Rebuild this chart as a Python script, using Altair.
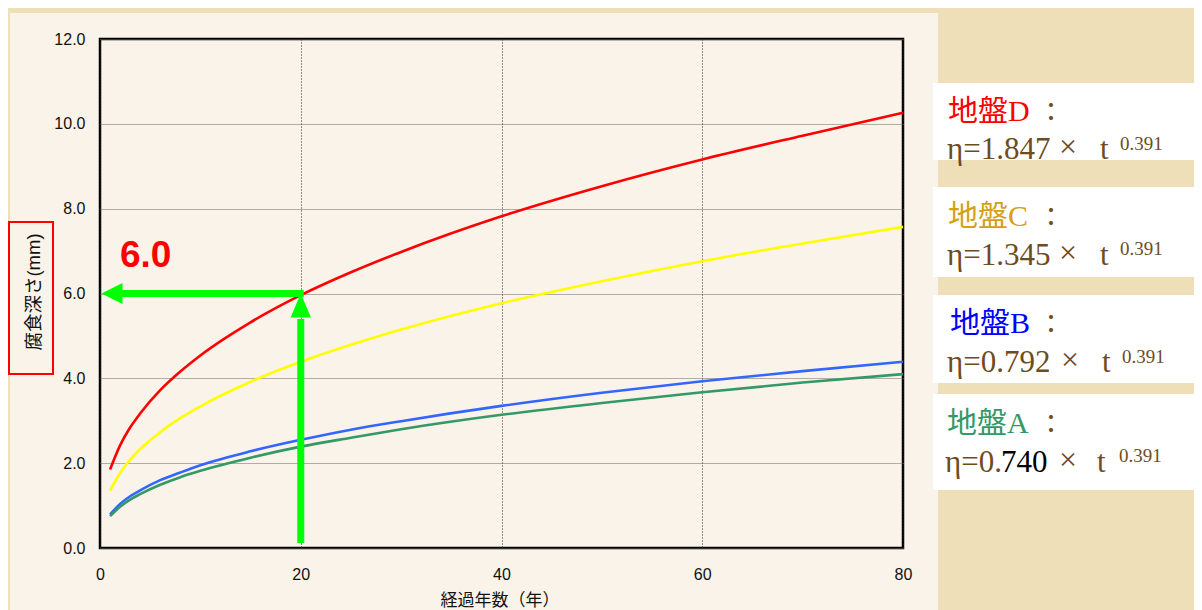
import altair as alt
import pandas as pd

# ---- data ----
years = [1, 2, 3, 4, 6, 8, 10, 15, 20, 25, 30, 40, 50, 60, 70, 80]
ground_d = [1.85, 2.42, 2.84, 3.17, 3.72, 4.16, 4.54, 5.32, 5.96, 6.50, 6.98, 7.82, 8.53, 9.16, 9.72, 10.26]
ground_c = [1.35, 1.77, 2.08, 2.33, 2.73, 3.06, 3.34, 3.92, 4.39, 4.79, 5.15, 5.77, 6.29, 6.76, 7.18, 7.57]
ground_b = [0.79, 1.04, 1.22, 1.36, 1.60, 1.78, 1.95, 2.28, 2.55, 2.79, 2.99, 3.35, 3.66, 3.93, 4.17, 4.39]
ground_a = [0.75, 0.97, 1.14, 1.27, 1.49, 1.67, 1.82, 2.13, 2.39, 2.60, 2.80, 3.14, 3.42, 3.67, 3.90, 4.10]
ground_names = ["地盤D", "地盤C", "地盤B", "地盤A"]
line_colors = ["#ff0000", "#ffff00", "#3366ff", "#339966"]
label_colors = ["#ff0000", "#d4a017", "#0000ff", "#339966"]
coefficients = ["1.847", "1.345", "0.792", "0.740"]
exponent = "0.391"
x_ticks = [0, 20, 40, 60, 80]
y_ticks = [0, 2, 4, 6, 8, 10, 12]
read_year = 20
read_depth = 6.0

rows = []
for name, vals in zip(ground_names, [ground_d, ground_c, ground_b, ground_a]):
    for t, v in zip(years, vals):
        rows.append({"t": t, "eta": v, "ground": name})
df = pd.DataFrame(rows)

SERIF = "Liberation Serif, Noto Sans CJK JP, serif"
SANS = "Liberation Sans, Noto Sans CJK JP, sans-serif"
BROWN = "#6e4c1e"
CREAM = "#f9f3e9"
TAN = "#eedfb8"

one = pd.DataFrame({"k": [0]})

x_scale = alt.Scale(domain=[0, 80], nice=False, zero=False)
y_scale = alt.Scale(domain=[0, 12], nice=False)


def rect(x1, x2, y1, y2, fill, **kw):
    return alt.Chart(one).mark_rect(fill=fill, **kw).encode(
        x=alt.value(x1), x2=alt.value(x2), y=alt.value(y1), y2=alt.value(y2))


def txt(s, x, y, size, color, font=SERIF, align="left", baseline="alphabetic",
        weight="normal", angle=0):
    return alt.Chart(one).mark_text(
        text=s, align=align, baseline=baseline, fontSize=size, color=color,
        font=font, fontWeight=weight, angle=angle).encode(
        x=alt.value(x), y=alt.value(y))


# background decorations (outside plot area)
strips = [
    rect(-100, 1102, -39, -26, TAN),
    rect(-100, -90, -39, 580, TAN),
    rect(838, 1102, -39, 580, TAN),
]

# white equation boxes
box_spans = [(44, 121), (148, 238), (256, 344), (355, 451)]
boxes = [rect(833, 1102, a, b, "#ffffff") for a, b in box_spans]

lines = alt.Chart(df).mark_line(strokeWidth=2.6, interpolate="monotone").encode(
    x=alt.X("t:Q", scale=x_scale,
            axis=alt.Axis(values=x_ticks, format="d", title=None, ticks=False,
                          domain=False, grid=True, gridColor="#222222",
                          gridDash=[1, 2], gridWidth=1, labelFontSize=16,
                          labelFont=SANS, labelColor="#111111", labelPadding=18,
                          labelFlush=False)),
    y=alt.Y("eta:Q", scale=y_scale,
            axis=alt.Axis(values=y_ticks, format=".1f", title=None, ticks=False,
                          domain=False, grid=True, gridColor="#666666",
                          gridDash=[1, 1], gridWidth=1, labelFontSize=16,
                          labelFont=SANS, labelColor="#111111", labelPadding=15,
                          labelFlush=False)),
    color=alt.Color("ground:N", scale=alt.Scale(domain=ground_names, range=line_colors),
                    legend=None),
)

# green reading arrows
GREEN = "#00ff00"
h_shaft = alt.Chart(pd.DataFrame({"x1": [2.0], "x2": [read_year + 0.3], "y": [read_depth]})).mark_rule(
    color=GREEN, strokeWidth=7).encode(
    x=alt.X("x1:Q", scale=x_scale), x2="x2:Q", y=alt.Y("y:Q", scale=y_scale))
v_shaft = alt.Chart(pd.DataFrame({"x": [read_year], "y1": [0.12], "y2": [read_depth - 0.6]})).mark_rule(
    color=GREEN, strokeWidth=7).encode(
    x=alt.X("x:Q", scale=x_scale), y=alt.Y("y1:Q", scale=y_scale), y2="y2:Q")
h_head = alt.Chart(pd.DataFrame({"x": [0.15], "y": [read_depth]})).mark_point(
    shape="M0,0L2,-1L2,1Z", size=441, filled=True, color=GREEN, opacity=1, strokeWidth=0).encode(
    x=alt.X("x:Q", scale=x_scale), y=alt.Y("y:Q", scale=y_scale))
v_head = alt.Chart(pd.DataFrame({"x": [read_year], "y": [read_depth]})).mark_point(
    shape="M0,0L-0.85,2L0.85,2Z", size=576, filled=True, color=GREEN, opacity=1, strokeWidth=0).encode(
    x=alt.X("x:Q", scale=x_scale), y=alt.Y("y:Q", scale=y_scale))

texts = [
    txt("6.0", 20, 228, 37, "#ff0000", font=SANS, weight="bold"),
    # axis titles
    rect(-91, -47, 183, 335, "#ffffff", fillOpacity=0, stroke="#ff0000", strokeWidth=2),
    txt("腐食深さ(mm)", -66, 253, 18.5, "#111111", font=SANS, align="center",
        baseline="middle", angle=270),
    txt("経過年数（年）", 400, 562, 17, "#111111", font=SANS, align="center", baseline="middle"),
]

# equation labels
label_y = [82, 187, 294, 394]
eq_y = [120, 226, 333, 433]
sup_y = [111, 216, 324, 423]
label_x = [848, 848, 850, 847]
eq_x = [847, 847, 847, 845]
times_x = [968, 968, 970, 968]
t_x = [1000, 1000, 1002, 997]
sup_x = [1020, 1020, 1022, 1019]
for i in range(4):
    texts.append(txt(ground_names[i], label_x[i], label_y[i], 30, label_colors[i]))
    texts.append(txt("：", 951, label_y[i], 26, BROWN, align="center"))
    if i == 3:
        texts.append(txt("η=0.", eq_x[i], eq_y[i], 31, BROWN))
        texts.append(txt(coefficients[i][2:], 901, eq_y[i], 31, "#000000"))
    else:
        texts.append(txt("η=" + coefficients[i], eq_x[i], eq_y[i], 31, BROWN))
    texts.append(txt("×", times_x[i], eq_y[i] - 2, 32, BROWN, align="center"))
    texts.append(txt("t", t_x[i], eq_y[i], 31, BROWN))
    texts.append(txt(exponent, sup_x[i], sup_y[i], 19, BROWN))

chart = alt.layer(
    *strips, *boxes, lines, h_shaft, v_shaft, h_head, v_head, *texts
).properties(
    width=803, height=509,
    padding={"left": 92, "top": 31, "right": 291, "bottom": 62},
    autosize=alt.AutoSizeParams(type="none"),
).configure(
    background=CREAM,
).configure_view(
    stroke="#000000", strokeWidth=2.5, fill=CREAM,
)

chart.save("out.html", embed_options={"renderer": "svg", "actions": False})
